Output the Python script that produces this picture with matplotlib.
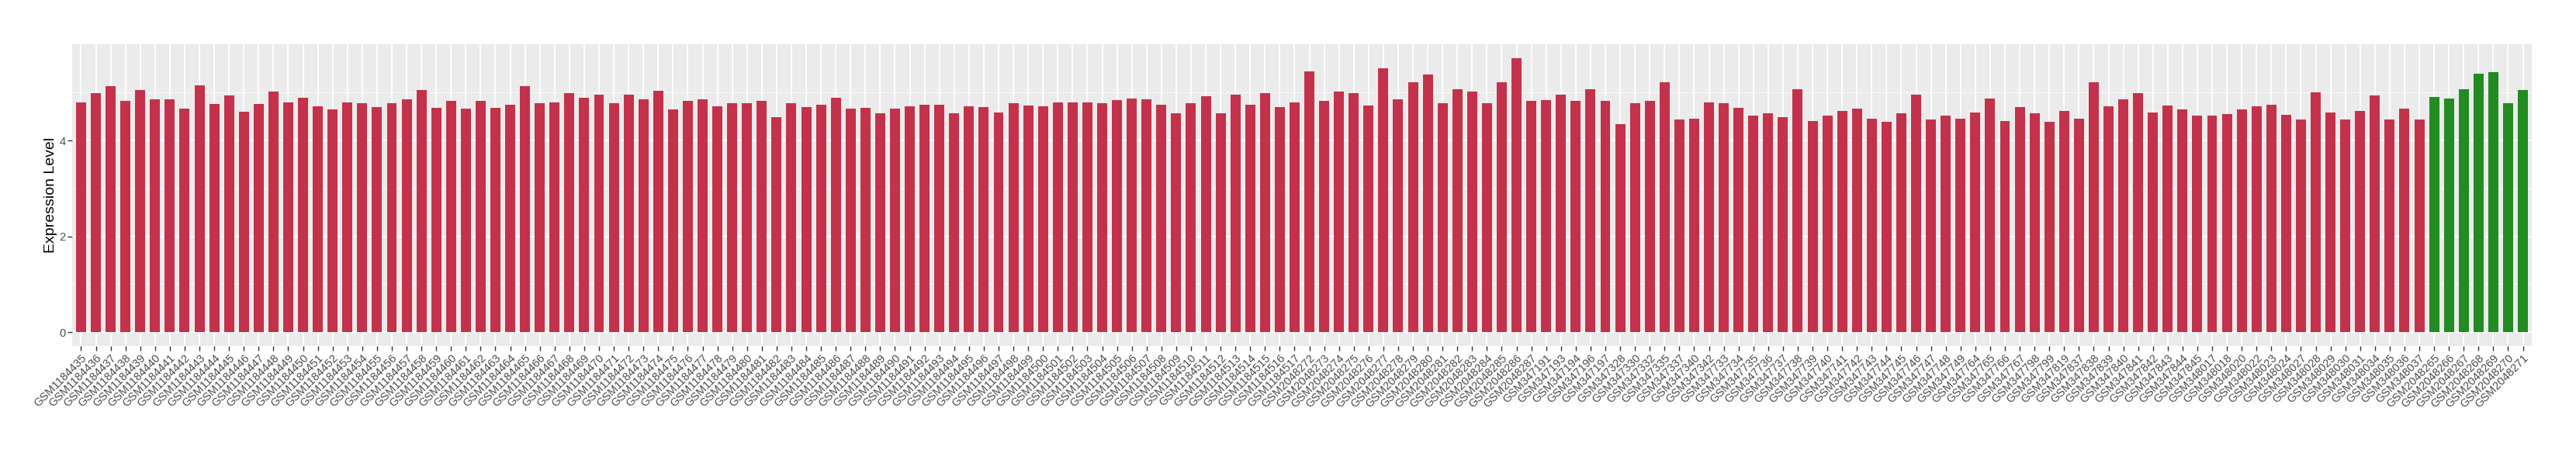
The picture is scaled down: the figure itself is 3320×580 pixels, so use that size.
import matplotlib
matplotlib.use('Agg')
import matplotlib.pyplot as plt
import numpy as np

plt.rcParams['font.family'] = ['Liberation Sans', 'DejaVu Sans']

# red samples, in plot order
red_samples = (
    [f'GSM{n}' for n in range(1184435, 1184518)]
    + [f'GSM{n}' for n in range(2048272, 2048288)]
    + ['GSM347191', 'GSM347193', 'GSM347194', 'GSM347196', 'GSM347197',
       'GSM347328', 'GSM347330', 'GSM347332', 'GSM347335', 'GSM347337',
       'GSM347340', 'GSM347342']
    + [f'GSM{n}' for n in range(347733, 347750)]
    + ['GSM347764', 'GSM347765', 'GSM347766', 'GSM347767',
       'GSM347798', 'GSM347799', 'GSM347819']
    + [f'GSM{n}' for n in range(347837, 347846)]
    + ['GSM348017', 'GSM348018', 'GSM348020', 'GSM348022', 'GSM348023',
       'GSM348024', 'GSM348027', 'GSM348028', 'GSM348029', 'GSM348030',
       'GSM348031', 'GSM348034', 'GSM348035', 'GSM348036', 'GSM348037']
)

red_values = [
    # GSM1184435 - GSM1184517
    4.80, 4.99, 5.14, 4.83, 5.05, 4.86, 4.85, 4.67, 5.15, 4.76,
    4.94, 4.60, 4.76, 5.02, 4.80, 4.89, 4.71, 4.64, 4.80, 4.78,
    4.70, 4.78, 4.85, 5.05, 4.68, 4.83, 4.67, 4.83, 4.68, 4.75,
    5.14, 4.77, 4.80, 4.98, 4.89, 4.96, 4.78, 4.96, 4.86, 5.04,
    4.64, 4.82, 4.86, 4.72, 4.77, 4.77, 4.83, 4.48, 4.78, 4.70,
    4.75, 4.89, 4.67, 4.68, 4.57, 4.66, 4.72, 4.75, 4.75, 4.56,
    4.72, 4.70, 4.59, 4.77, 4.73, 4.72, 4.80, 4.80, 4.80, 4.77,
    4.84, 4.88, 4.86, 4.75, 4.56, 4.78, 4.93, 4.57, 4.96, 4.75,
    4.98, 4.70, 4.80,
    # GSM2048272 - GSM2048287
    5.44, 4.82, 5.02, 4.99, 4.73, 5.51, 4.86, 5.22, 5.38, 4.78,
    5.07, 5.02, 4.77, 5.22, 5.72, 4.83,
    # GSM347191 - GSM347342
    4.84, 4.96, 4.82, 5.06, 4.82,
    4.34, 4.77, 4.82, 5.22, 4.43, 4.46, 4.80,
    # GSM347733 - GSM347749
    4.78, 4.68, 4.52, 4.57, 4.48, 5.07, 4.41, 4.51, 4.62, 4.67,
    4.46, 4.39, 4.57, 4.96, 4.44, 4.51, 4.46,
    # GSM347764 - GSM347819
    4.59, 4.88, 4.41, 4.70, 4.56, 4.39, 4.62,
    # GSM347837 - GSM347845
    4.46, 5.22, 4.72, 4.86, 4.99, 4.59, 4.73, 4.64, 4.51,
    # GSM348017 - GSM348037
    4.52, 4.55, 4.64, 4.71, 4.75, 4.54, 4.43, 5.01, 4.59, 4.44,
    4.62, 4.94, 4.43, 4.67, 4.43,
]

green_samples = [f'GSM{n}' for n in range(2048265, 2048272)]
green_values = [4.91, 4.88, 5.07, 5.39, 5.42, 4.78, 5.05]

red_color = '#C3324A'
green_color = '#228B22'

W, H = 3320, 580
fig = plt.figure(figsize=(W / 100, H / 100), dpi=100)

# panel position in pixels
left, right, top, bottom = 93, 3263, 57, 446
ax = fig.add_axes([left / W, 1 - bottom / H, (right - left) / W, (bottom - top) / H])

labels = red_samples + green_samples
values = red_values + green_values
colors = [red_color] * len(red_values) + [green_color] * len(green_values)
x = np.arange(len(labels))

ax.bar(x, values, width=0.68, color=colors, zorder=2)

ymax = max(values)
ax.set_ylim(-0.05 * ymax, 1.05 * ymax)
ax.set_xlim(-0.6, len(labels) - 0.4)

ax.set_facecolor('#EBEBEB')
for s in ax.spines.values():
    s.set_visible(False)

ax.set_yticks([0, 2, 4])
ax.set_yticks([1, 3, 5], minor=True)
ax.set_xticks(x)
ax.set_xticklabels(labels, rotation=45, ha='right', va='top',
                   rotation_mode='anchor', fontsize=10.5, color='#4D4D4D')
ax.tick_params(axis='y', which='major', labelsize=10.5, labelcolor='#4D4D4D',
               length=4, width=1.0, color='#333333', pad=2)
ax.tick_params(axis='y', which='minor', length=0)
ax.tick_params(axis='x', length=4, width=1.0, color='#333333', pad=2)

ax.set_axisbelow(True)
ax.grid(which='major', color='white', linewidth=1.3)
ax.grid(which='minor', axis='y', color='white', linewidth=0.6)

ax.set_ylabel('Expression Level', fontsize=14, color='black')
ax.yaxis.set_label_coords((73.5 - left) / (right - left), 0.5)

fig.savefig('out.png', dpi=100)
